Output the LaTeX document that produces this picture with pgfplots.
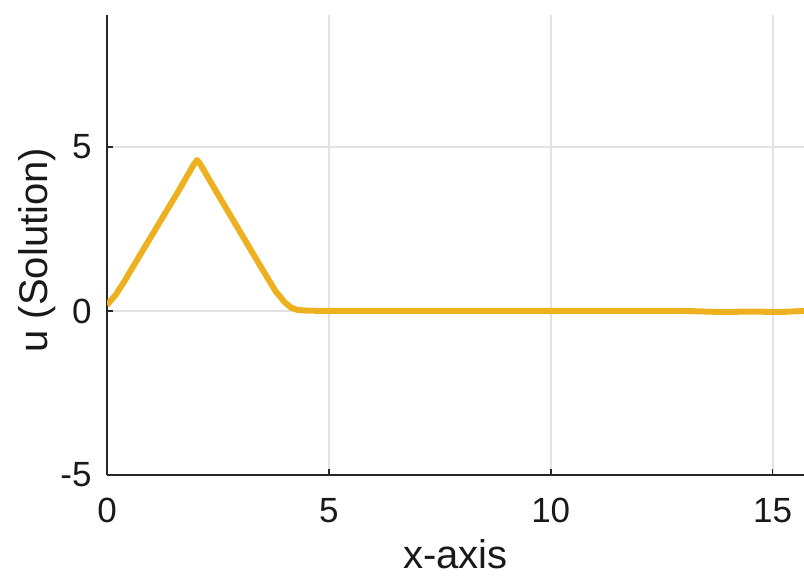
\documentclass[border=0pt]{standalone}
\usepackage{fontspec}
\setmainfont{Liberation Sans}
\usepackage{pgfplots}
\pgfplotsset{compat=1.18}
\definecolor{mlyellow}{HTML}{EDB120}
\definecolor{axgray}{HTML}{262626}
\definecolor{gridgray}{HTML}{E3E3E3}
\begin{document}
\begin{tikzpicture}
\begin{axis}[
  scale only axis,
  width=348.5bp, height=230bp,
  xmin=0, xmax=15.708,
  ymin=-5, ymax=9.02,
  axis x line=bottom, axis y line=left,
  axis line style={-, axgray, line width=0.9bp},
  xtick={0,5,10,15}, xticklabels={0,5,10,15},
  ytick={-5,0,5}, yticklabels={-5,0,5},
  tick align=inside,
  major tick length=3bp,
  tick style={axgray, line width=0.9bp},
  grid=major,
  major grid style={gridgray, line width=1bp},
  tick label style={inner sep=0pt, font=\fontsize{17.5bp}{21bp}\selectfont, text=black!90},
  xticklabel shift=11.5bp,
  yticklabel shift=7.5bp,
  /pgf/number format/assume math mode=true,
  xlabel={x-axis},
  ylabel={u (Solution)},
  label style={font=\fontsize{20bp}{24bp}\selectfont, inner sep=0pt, text=black!90},
  xlabel style={at={(axis description cs:0.5,-0.2040)}, anchor=base},
  ylabel style={at={(axis description cs:-0.0847,0.489)}, anchor=base, rotate=0},
]
\addplot[mlyellow, line width=3bp, line join=round] coordinates {
(0,0.18) (0.2,0.5) (0.38,0.88) (0.8,1.83) (1.2,2.73) (1.6,3.63) (1.95,4.45)
(2.03,4.6) (2.1,4.48) (2.5,3.55) (3.0,2.41) (3.5,1.27) (3.8,0.6) (4.0,0.27)
(4.15,0.1) (4.3,0.03) (4.5,0.01) (5,0) (10,0) (13,0) (13.8,-0.03) (14.5,-0.02)
(15.2,-0.03) (15.708,0)
};
\end{axis}
\pgfresetboundingbox
\path ([shift={(-53.5bp,-51bp)}]current axis.south west) rectangle ([shift={(0bp,7.5bp)}]current axis.north east);
\end{tikzpicture}
\end{document}
